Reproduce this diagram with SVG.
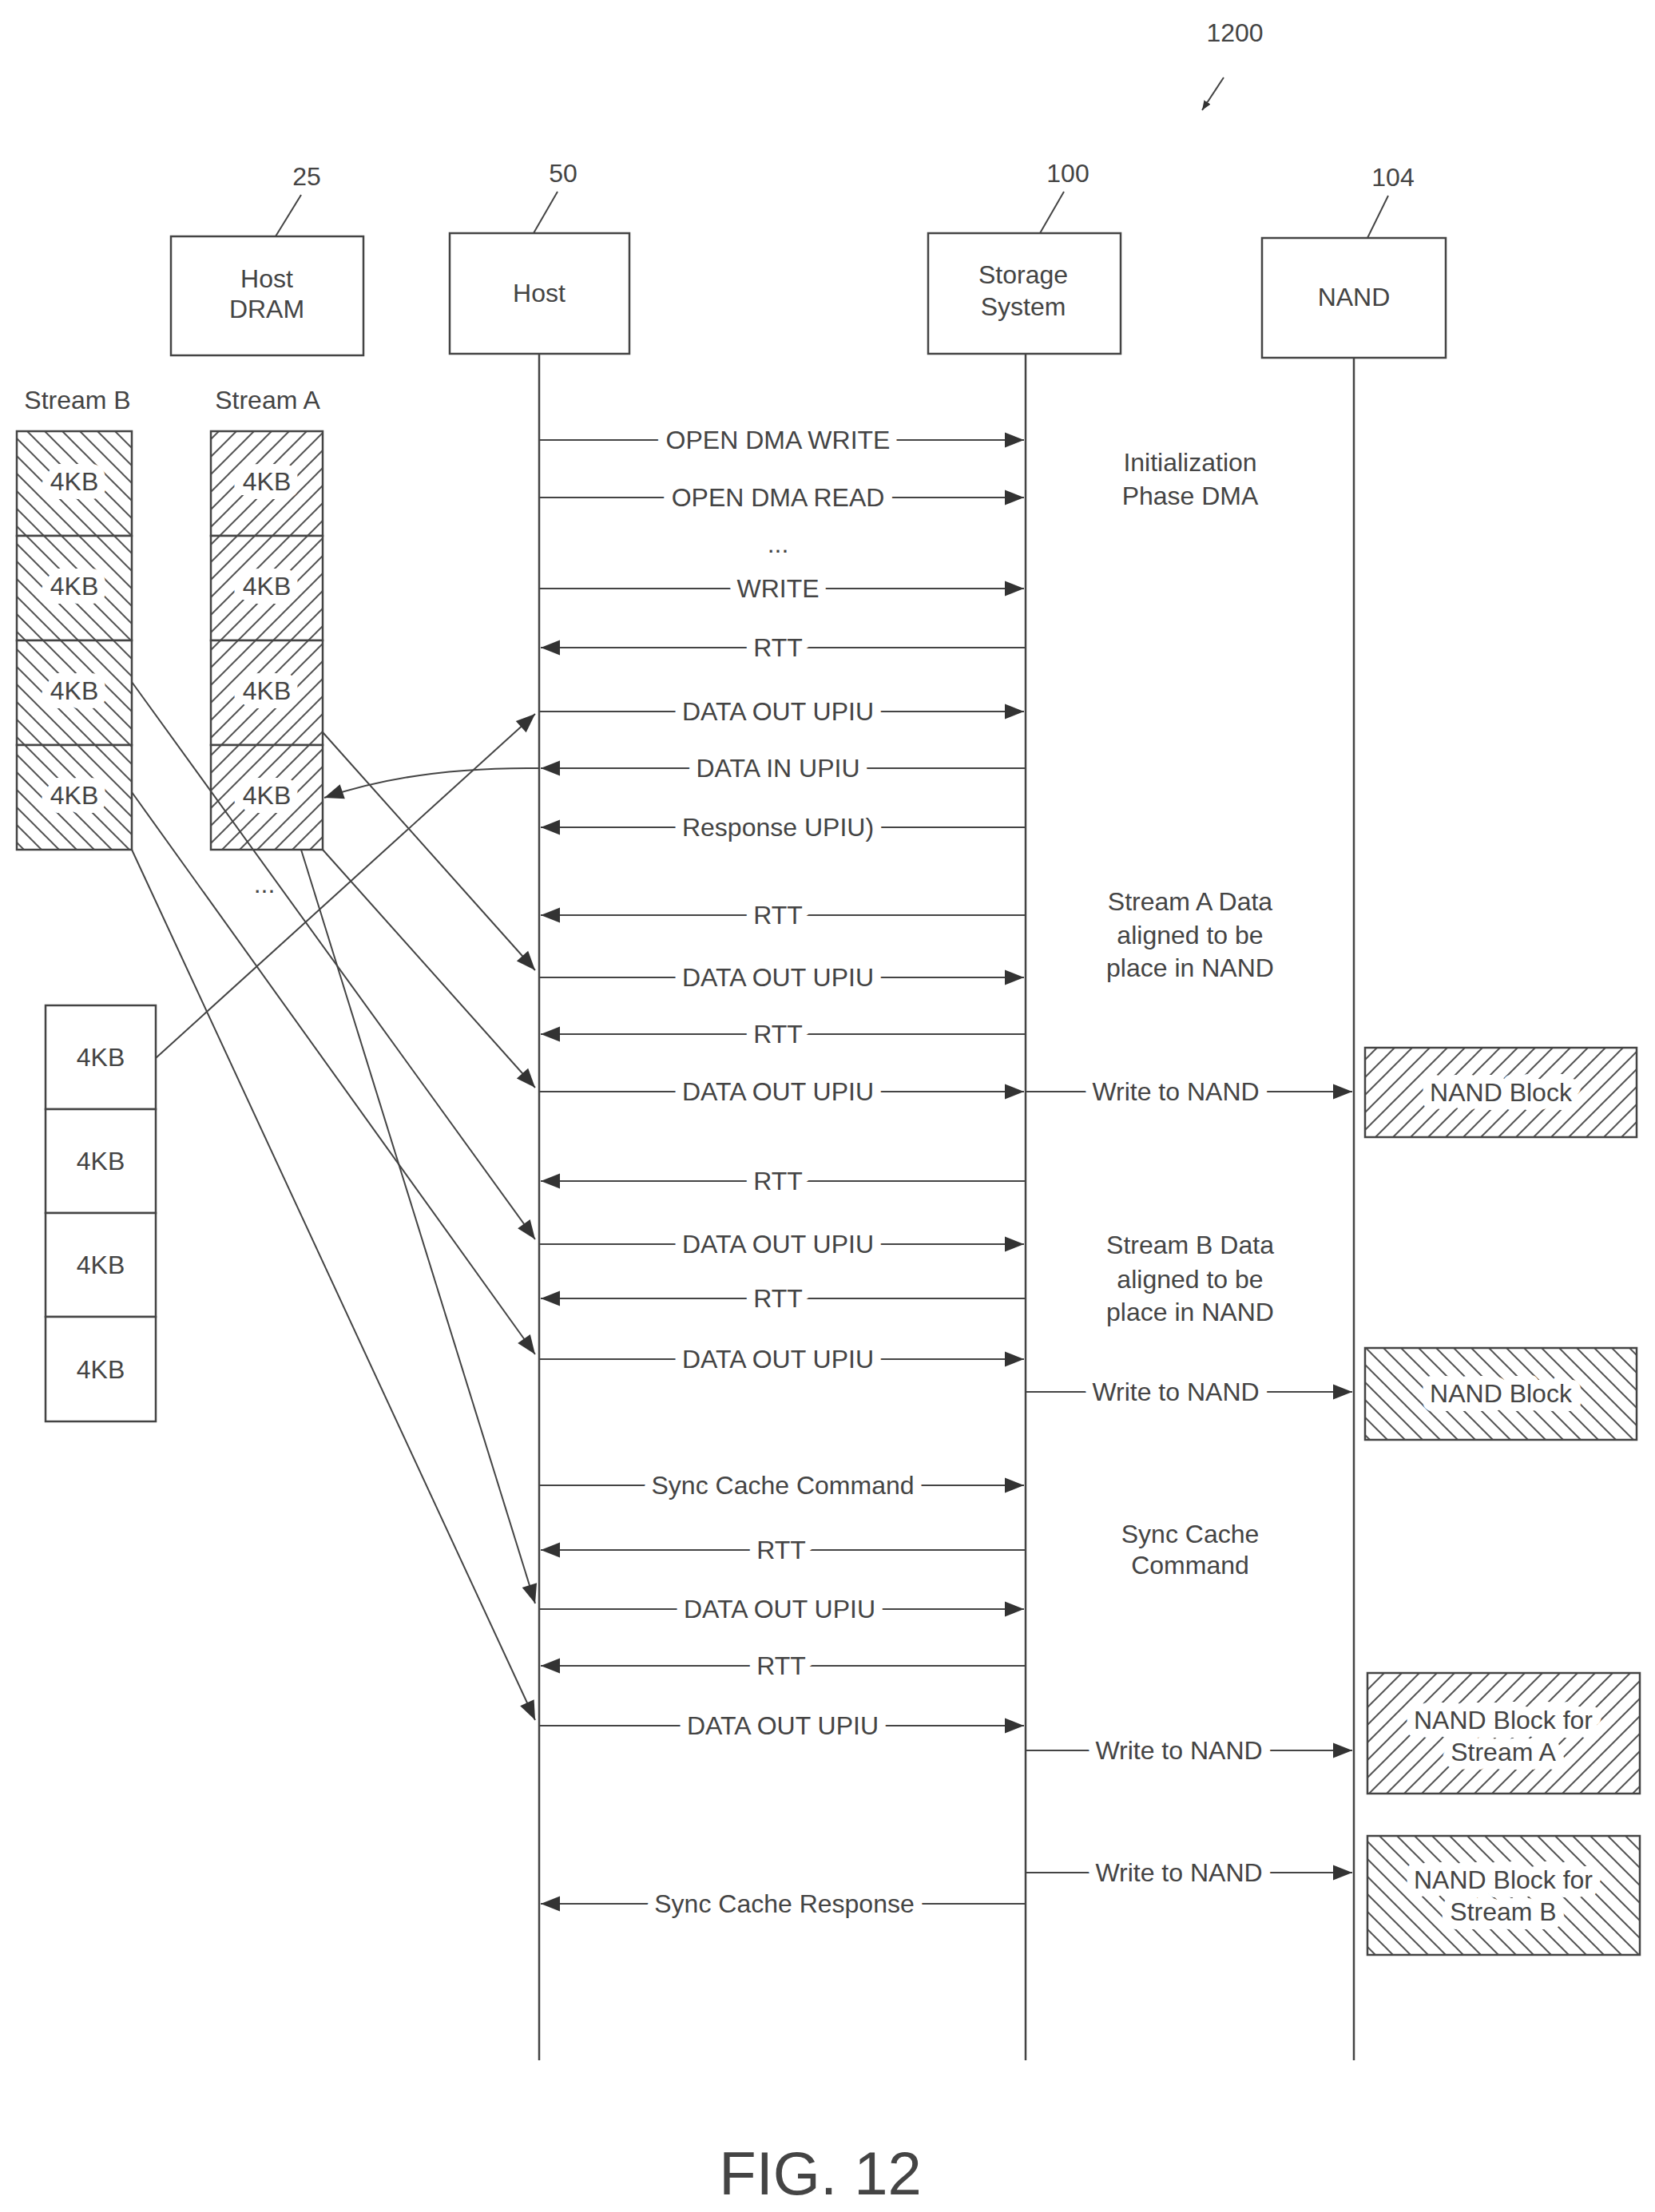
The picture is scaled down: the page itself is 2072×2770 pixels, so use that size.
<svg xmlns="http://www.w3.org/2000/svg" width="2072" height="2770" viewBox="0 0 2072 2770">
<style>
text{font-family:"Liberation Sans",Arial,sans-serif;fill:#444;font-size:32px;text-anchor:middle}
.m{stroke:#fff;stroke-width:22;stroke-linejoin:round;paint-order:stroke}
.box{fill:#fff;stroke:#444;stroke-width:2.5}
.ln{stroke:#444;stroke-width:2;fill:none}
.ll{stroke:#444;stroke-width:2.5}
</style>
<defs>
<marker id="ah" viewBox="0 0 10 10" refX="10" refY="5" markerWidth="12" markerHeight="12" markerUnits="userSpaceOnUse" orient="auto"><path d="M0,1 L10,5 L0,9 Z" fill="#333"/></marker>
<marker id="ab" viewBox="0 0 10 10" refX="10" refY="5" markerWidth="32" markerHeight="24" markerUnits="userSpaceOnUse" orient="auto"><path d="M0,1 L10,5 L0,9 Z" fill="#333"/></marker>
<pattern id="hf" width="22" height="22" patternUnits="userSpaceOnUse"><rect width="22" height="22" fill="#fff"/><path d="M-2,24 L24,-2 M-6,6 L6,-6 M16,28 L28,16" stroke="#555" stroke-width="2"/></pattern>
<pattern id="hb" width="22" height="22" patternUnits="userSpaceOnUse"><rect width="22" height="22" fill="#fff"/><path d="M-2,-2 L24,24 M16,-6 L28,6 M-6,16 L6,28" stroke="#555" stroke-width="2"/></pattern>
</defs>
<g id="refs">
<text x="1546" y="52">1200</text><path class="ln" d="M1532,97 L1505,138" marker-end="url(#ah)"/>
<text x="384" y="232">25</text><path class="ln" d="M377,244 L345,296"/>
<text x="705" y="228">50</text><path class="ln" d="M698,240 L668,292"/>
<text x="1337" y="228">100</text><path class="ln" d="M1332,240 L1302,292"/>
<text x="1744" y="233">104</text><path class="ln" d="M1738,245 L1712,298"/>
</g>
<g id="hostdram"><rect class="box" x="214" y="296" width="241" height="149"/><text x="334" y="360">Host</text><text x="334" y="398">DRAM</text></g>
<g id="host"><rect class="box" x="563" y="292" width="225" height="151"/><text x="675" y="378">Host</text></g>
<g id="storage"><rect class="box" x="1162" y="292" width="241" height="151"/><text x="1281" y="355">Storage</text><text x="1281" y="395">System</text></g>
<g id="nand"><rect class="box" x="1580" y="298" width="230" height="150"/><text x="1695" y="383">NAND</text></g>
<g id="lifelines">
<line class="ll" x1="675" y1="443" x2="675" y2="2580"/>
<line class="ll" x1="1284" y1="443" x2="1284" y2="2580"/>
<line class="ll" x1="1695" y1="448" x2="1695" y2="2580"/>
</g>
<g id="streamB"><text x="97" y="512">Stream B</text>
<rect class="box" x="21" y="540" width="144" height="131" style="fill:url(#hb)"/>
<rect class="box" x="21" y="671" width="144" height="131" style="fill:url(#hb)"/>
<rect class="box" x="21" y="802" width="144" height="131" style="fill:url(#hb)"/>
<rect class="box" x="21" y="933" width="144" height="131" style="fill:url(#hb)"/>
<text class="m" x="93" y="614">4KB</text><text class="m" x="93" y="745">4KB</text><text class="m" x="93" y="876">4KB</text><text class="m" x="93" y="1007">4KB</text></g>
<g id="streamA"><text x="335" y="512">Stream A</text>
<rect class="box" x="264" y="540" width="140" height="131" style="fill:url(#hf)"/>
<rect class="box" x="264" y="671" width="140" height="131" style="fill:url(#hf)"/>
<rect class="box" x="264" y="802" width="140" height="131" style="fill:url(#hf)"/>
<rect class="box" x="264" y="933" width="140" height="131" style="fill:url(#hf)"/>
<text class="m" x="334" y="614">4KB</text><text class="m" x="334" y="745">4KB</text><text class="m" x="334" y="876">4KB</text><text class="m" x="334" y="1007">4KB</text>
<text x="331" y="1118">...</text></g>
<g id="lowercol">
<rect class="box" x="57" y="1259" width="138" height="130"/><rect class="box" x="57" y="1389" width="138" height="130"/><rect class="box" x="57" y="1519" width="138" height="130"/><rect class="box" x="57" y="1649" width="138" height="131"/>
<text x="126" y="1335">4KB</text><text x="126" y="1465">4KB</text><text x="126" y="1595">4KB</text><text x="126" y="1726">4KB</text></g>
<g id="nandblocks">
<rect class="box" x="1709" y="1312" width="340" height="112" style="fill:url(#hf)"/><text class="m" x="1879" y="1379">NAND Block</text>
<rect class="box" x="1709" y="1688" width="340" height="115" style="fill:url(#hb)"/><text class="m" x="1879" y="1756">NAND Block</text>
<rect class="box" x="1712" y="2095" width="341" height="151" style="fill:url(#hf)"/><text class="m" x="1882" y="2165">NAND Block for</text><text class="m" x="1882" y="2205">Stream A</text>
<rect class="box" x="1712" y="2299" width="341" height="149" style="fill:url(#hb)"/><text class="m" x="1882" y="2365">NAND Block for</text><text class="m" x="1882" y="2405">Stream B</text>
</g>
<g id="notes">
<text x="1490" y="590">Initialization</text><text x="1490" y="632">Phase DMA</text>
<text x="1490" y="1140">Stream A Data</text><text x="1490" y="1182">aligned to be</text><text x="1490" y="1223">place in NAND</text>
<text x="1490" y="1570">Stream B Data</text><text x="1490" y="1613">aligned to be</text><text x="1490" y="1654">place in NAND</text>
<text x="1490" y="1932">Sync Cache</text><text x="1490" y="1971">Command</text>
</g>
<g id="connectors">
<line class="ln" x1="675" y1="551" x2="1282" y2="551" marker-end="url(#ab)"/>
<line class="ln" x1="675" y1="623" x2="1282" y2="623" marker-end="url(#ab)"/>
<line class="ln" x1="675" y1="737" x2="1282" y2="737" marker-end="url(#ab)"/>
<line class="ln" x1="1284" y1="811" x2="677" y2="811" marker-end="url(#ab)"/>
<line class="ln" x1="675" y1="891" x2="1282" y2="891" marker-end="url(#ab)"/>
<line class="ln" x1="1284" y1="962" x2="677" y2="962" marker-end="url(#ab)"/>
<line class="ln" x1="1284" y1="1036" x2="677" y2="1036" marker-end="url(#ab)"/>
<line class="ln" x1="1284" y1="1146" x2="677" y2="1146" marker-end="url(#ab)"/>
<line class="ln" x1="675" y1="1224" x2="1282" y2="1224" marker-end="url(#ab)"/>
<line class="ln" x1="1284" y1="1295" x2="677" y2="1295" marker-end="url(#ab)"/>
<line class="ln" x1="675" y1="1367" x2="1282" y2="1367" marker-end="url(#ab)"/>
<line class="ln" x1="1284" y1="1367" x2="1693" y2="1367" marker-end="url(#ab)"/>
<line class="ln" x1="1284" y1="1479" x2="677" y2="1479" marker-end="url(#ab)"/>
<line class="ln" x1="675" y1="1558" x2="1282" y2="1558" marker-end="url(#ab)"/>
<line class="ln" x1="1284" y1="1626" x2="677" y2="1626" marker-end="url(#ab)"/>
<line class="ln" x1="675" y1="1702" x2="1282" y2="1702" marker-end="url(#ab)"/>
<line class="ln" x1="1284" y1="1743" x2="1693" y2="1743" marker-end="url(#ab)"/>
<line class="ln" x1="675" y1="1860" x2="1282" y2="1860" marker-end="url(#ab)"/>
<line class="ln" x1="1284" y1="1941" x2="677" y2="1941" marker-end="url(#ab)"/>
<line class="ln" x1="675" y1="2015" x2="1282" y2="2015" marker-end="url(#ab)"/>
<line class="ln" x1="1284" y1="2086" x2="677" y2="2086" marker-end="url(#ab)"/>
<line class="ln" x1="675" y1="2161" x2="1282" y2="2161" marker-end="url(#ab)"/>
<line class="ln" x1="1284" y1="2192" x2="1693" y2="2192" marker-end="url(#ab)"/>
<line class="ln" x1="1284" y1="2345" x2="1693" y2="2345" marker-end="url(#ab)"/>
<line class="ln" x1="1284" y1="2384" x2="677" y2="2384" marker-end="url(#ab)"/>
<line class="ln" x1="195" y1="1325" x2="670" y2="894" marker-end="url(#ab)"/>
<path class="ln" d="M675,962 Q520,960 406,999" marker-end="url(#ab)"/>
<line class="ln" x1="404" y1="917" x2="670" y2="1215" marker-end="url(#ab)"/>
<line class="ln" x1="404" y1="1064" x2="670" y2="1362" marker-end="url(#ab)"/>
<line class="ln" x1="165" y1="854" x2="670" y2="1552" marker-end="url(#ab)"/>
<line class="ln" x1="165" y1="992" x2="670" y2="1696" marker-end="url(#ab)"/>
<line class="ln" x1="377" y1="1064" x2="670" y2="2008" marker-end="url(#ab)"/>
<line class="ln" x1="165" y1="1064" x2="670" y2="2154" marker-end="url(#ab)"/>
</g>
<g id="labels">
<text class="m" x="974" y="562">OPEN DMA WRITE</text>
<text class="m" x="974" y="634">OPEN DMA READ</text>
<text x="974" y="692">...</text>
<text class="m" x="974" y="748">WRITE</text>
<text class="m" x="974" y="822">RTT</text>
<text class="m" x="974" y="902">DATA OUT UPIU</text>
<text class="m" x="974" y="973">DATA IN UPIU</text>
<text class="m" x="974" y="1047">Response UPIU)</text>
<text class="m" x="974" y="1157">RTT</text>
<text class="m" x="974" y="1235">DATA OUT UPIU</text>
<text class="m" x="974" y="1306">RTT</text>
<text class="m" x="974" y="1378">DATA OUT UPIU</text>
<text class="m" x="1472" y="1378">Write to NAND</text>
<text class="m" x="974" y="1490">RTT</text>
<text class="m" x="974" y="1569">DATA OUT UPIU</text>
<text class="m" x="974" y="1637">RTT</text>
<text class="m" x="974" y="1713">DATA OUT UPIU</text>
<text class="m" x="1472" y="1754">Write to NAND</text>
<text class="m" x="980" y="1871">Sync Cache Command</text>
<text class="m" x="978" y="1952">RTT</text>
<text class="m" x="976" y="2026">DATA OUT UPIU</text>
<text class="m" x="978" y="2097">RTT</text>
<text class="m" x="980" y="2172">DATA OUT UPIU</text>
<text class="m" x="1476" y="2203">Write to NAND</text>
<text class="m" x="1476" y="2356">Write to NAND</text>
<text class="m" x="982" y="2395">Sync Cache Response</text>
</g>
<text x="1027" y="2748" style="font-size:76px">FIG. 12</text>
</svg>
